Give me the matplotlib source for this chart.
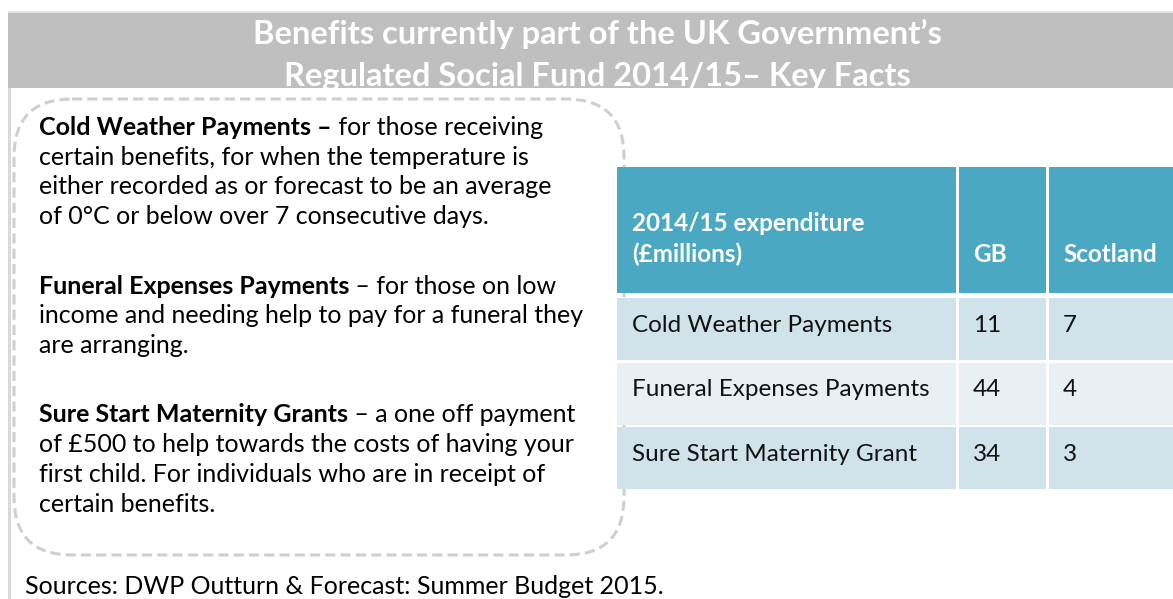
import matplotlib.pyplot as plt
from matplotlib.patches import Rectangle, FancyBboxPatch

plt.rcParams['font.family'] = ['Lato', 'DejaVu Sans']

# ---- content ----
title_lines = ["Benefits currently part of the UK Government\u2019s",
               "Regulated Social Fund 2014/15\u2013 Key Facts"]

# each paragraph: bold lead, rest of first line, following lines
paragraphs = [
    ("Cold Weather Payments \u2013", " for those receiving",
     ["certain benefits, for when the temperature is",
      "either recorded as or forecast to be an average",
      "of 0\u00b0C or below over 7 consecutive days."]),
    ("Funeral Expenses Payments", " \u2013 for those on low",
     ["income and needing help to pay for a funeral they",
      "are arranging."]),
    ("Sure Start Maternity Grants", " \u2013 a one off payment",
     ["of \u00a3500 to help towards the costs of having your",
      "first child. For individuals who are in receipt of",
      "certain benefits."]),
]

header = ["2014/15 expenditure\n(\u00a3millions)", "GB", "Scotland"]
benefits = ["Cold Weather Payments", "Funeral Expenses Payments", "Sure Start Maternity Grant"]
gb = [11, 44, 34]
scotland = [7, 4, 3]

source = "Sources: DWP Outturn & Forecast: Summer Budget 2015."

fig = plt.figure(figsize=(11.73, 5.99), dpi=100)
ax = fig.add_axes([0, 0, 1, 1])
ax.set_xlim(0, 1173)
ax.set_ylim(599, 0)
ax.axis('off')

# title bar and left rule
bar = Rectangle((8, 13), 1165, 75, color='#bfbfbf', lw=0, zorder=1)
ax.add_patch(bar)
ax.add_patch(Rectangle((8, 11), 1165, 2, color='#e3e3e3', lw=0))
ax.add_patch(Rectangle((8, 88), 3, 511, color='#d9d9d9', lw=0))
for i, line in enumerate(title_lines):
    t = ax.text(597, 44 + i * 42, line, color='white', fontsize=23.5, fontweight='bold',
                ha='center', va='baseline', zorder=2)
    t.set_clip_path(bar)

# dashed rounded box
ax.add_patch(FancyBboxPatch((14, 99), 610, 456,
                            boxstyle="round,pad=0,rounding_size=58",
                            fill=False, ec='#cfcfcf', lw=2.2, ls=(0, (3.3, 1.7))))

# left text
fig.canvas.draw()
renderer = fig.canvas.get_renderer()
fs = 18
step = 29.7
para_gap = 69.5
y = 135
for bold, rest, lines in paragraphs:
    t = ax.text(39, y, bold, fontsize=fs, fontweight='bold', va='baseline', color='black')
    w = t.get_window_extent(renderer).width
    ax.text(39 + w, y, rest, fontsize=fs, va='baseline', color='black')
    for line in lines:
        y += step
        ax.text(39, y, line, fontsize=fs, va='baseline', color='black')
    y += para_gap

# table
col_x = [617, 957, 1047, 1173]
teal = '#4aa8c2'
gap = 3
tfs = 17.5


def row_cells(top, h, c):
    ax.add_patch(Rectangle((col_x[0], top), col_x[1] - col_x[0] - gap / 2, h, color=c, lw=0))
    ax.add_patch(Rectangle((col_x[1] + gap / 2, top), col_x[2] - col_x[1] - gap, h, color=c, lw=0))
    ax.add_patch(Rectangle((col_x[2] + gap / 2, top), col_x[3] - col_x[2], h, color=c, lw=0))


row_cells(167, 126, teal)
ax.text(632, 231, header[0].split('\n')[0], color='white', fontsize=tfs,
        fontweight='bold', va='baseline')
ax.text(632, 262, header[0].split('\n')[1], color='white', fontsize=tfs,
        fontweight='bold', va='baseline')
ax.text(973, 262, header[1], color='white', fontsize=tfs, fontweight='bold', va='baseline')
ax.text(1063, 262, header[2], color='white', fontsize=tfs, fontweight='bold', va='baseline')

row_colors = ['#d0e2ea', '#e8f0f4', '#d0e2ea']
row_top = 298
row_h = 62
for i, (name, g, s) in enumerate(zip(benefits, gb, scotland)):
    top = row_top + i * (row_h + 2.5)
    row_cells(top, row_h, row_colors[i])
    yb = top + 34
    ax.text(632, yb, name, fontsize=tfs, va='baseline', color='#111111')
    ax.text(973, yb, str(g), fontsize=tfs, va='baseline', color='#111111')
    ax.text(1063, yb, str(s), fontsize=tfs, va='baseline', color='#111111')

ax.text(25, 594, source, fontsize=fs, va='baseline', color='black')

fig.savefig('out.png', dpi=100, facecolor='white')
